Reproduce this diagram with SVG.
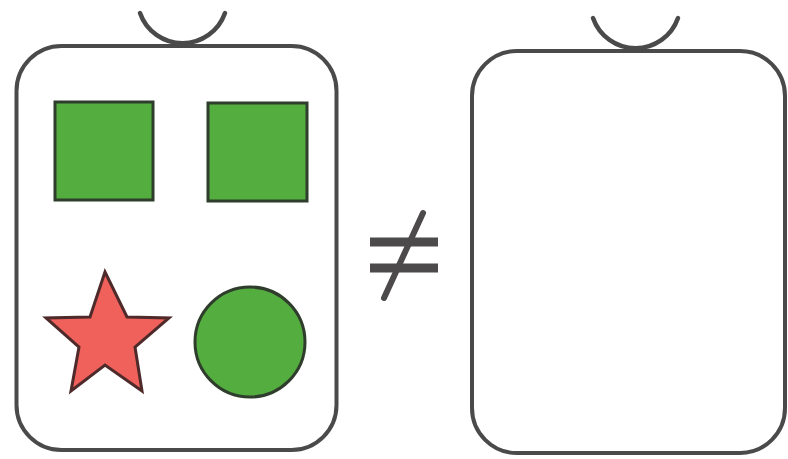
<svg xmlns="http://www.w3.org/2000/svg" width="788" height="459" viewBox="0 0 788 459">
<style>
.bag{fill:#ffffff;stroke:#4a4a4a;stroke-width:4}
.handle{fill:none;stroke:#4a4a4a;stroke-width:4.5;stroke-linecap:round}
.green{fill:#54ad3f;stroke:#2f3d2c;stroke-width:3}
.red{fill:#f0615b;stroke:#4f2a2a;stroke-width:3;stroke-linejoin:miter}
.sign{stroke:#4d4a4c;fill:none}
</style>
<rect width="788" height="459" fill="#ffffff"/>
<g id="bag-left">
<path class="handle" d="M140,13 A45,45 0 0 0 225,13"/>
<rect class="bag" x="16.5" y="46" width="320" height="404" rx="45" ry="45"/>
<rect class="green" x="55" y="102" width="98" height="98"/>
<rect class="green" x="208" y="103" width="99" height="98"/>
<polygon class="red" points="105,272 127,317 169,318 135,347 142,391 105,365 71,391 79,347 46,318 90,317"/>
<circle class="green" cx="250" cy="342" r="55"/>
</g>
<g id="not-equal">
<line class="sign" x1="370" y1="242" x2="438" y2="242" stroke-width="9"/>
<line class="sign" x1="370" y1="268" x2="438" y2="268" stroke-width="9"/>
<line class="sign" x1="423" y1="213" x2="384" y2="298" stroke-width="6" stroke-linecap="round"/>
</g>
<g id="bag-right">
<path class="handle" d="M593,18 A45,45 0 0 0 678,18"/>
<rect class="bag" x="472" y="51" width="313" height="402" rx="45" ry="45"/>
</g>
</svg>
